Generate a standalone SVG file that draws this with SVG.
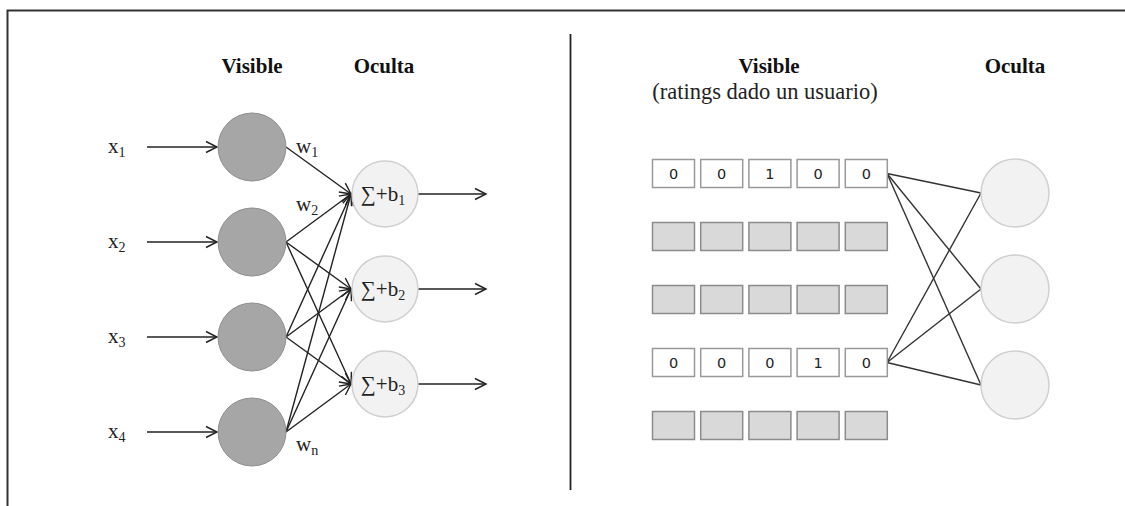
<svg xmlns="http://www.w3.org/2000/svg" width="1125" height="506" viewBox="0 0 1125 506">
<defs>
<marker id="open" markerUnits="userSpaceOnUse" markerWidth="14" markerHeight="14" refX="12" refY="6" orient="auto" viewBox="0 0 14 12">
<path d="M1,0.5 L12,6 L1,11.5" fill="none" stroke="#222" stroke-width="1.4"/>
</marker>
</defs>
<style>
.frame{stroke:#333;stroke-width:2;fill:none}
.head{font-family:"Liberation Serif","Times New Roman",serif;font-weight:bold;font-size:21px;fill:#111;text-anchor:middle}
.ser{font-family:"Liberation Serif","Times New Roman",serif;font-size:21px;fill:#222}
.big{font-size:22.5px}
.sub{font-size:14px}
.vis{fill:#a6a6a6;stroke:#8f8f8f;stroke-width:1}
.hid{fill:#f2f2f2;stroke:#cfcfcf;stroke-width:1.5}
.arr{stroke:#222;stroke-width:1.4;fill:none;marker-end:url(#open)}
.ln{stroke:#333;stroke-width:1.4;fill:none}
.bw{fill:#fff;stroke:#999;stroke-width:1.5}
.bg{fill:#d9d9d9;stroke:#8c8c8c;stroke-width:1.5}
.dig{font-family:"DejaVu Sans",Verdana,sans-serif;font-size:14.5px;fill:#222;text-anchor:middle}
</style>
<rect width="1125" height="506" fill="#fff"/>
<path class="frame" d="M7.5,506 V10.5 H1125"/>
<line x1="570.5" y1="34" x2="570.5" y2="490" stroke="#222" stroke-width="1.8"/>

<g id="headers">
<text class="head" x="252" y="73">Visible</text>
<text class="head" x="384" y="73">Oculta</text>
<text class="head" x="769" y="73">Visible</text>
<text class="ser big" x="765" y="99" text-anchor="middle">(ratings dado un usuario)</text>
<text class="head" x="1015" y="73">Oculta</text>
</g>

<g id="connectors">
<line class="arr" x1="147" y1="147" x2="217" y2="147"/>
<line class="arr" x1="147" y1="242" x2="217" y2="242"/>
<line class="arr" x1="147" y1="337" x2="217" y2="337"/>
<line class="arr" x1="147" y1="432" x2="217" y2="432"/>
<line class="arr" x1="286" y1="147" x2="351" y2="194"/>
<line class="arr" x1="286" y1="242" x2="351" y2="194"/>
<line class="arr" x1="286" y1="242" x2="351" y2="289"/>
<line class="arr" x1="286" y1="242" x2="351" y2="384"/>
<line class="arr" x1="286" y1="337" x2="351" y2="194"/>
<line class="arr" x1="286" y1="337" x2="351" y2="289"/>
<line class="arr" x1="286" y1="337" x2="351" y2="384"/>
<line class="arr" x1="286" y1="432" x2="351" y2="194"/>
<line class="arr" x1="286" y1="432" x2="351" y2="289"/>
<line class="arr" x1="286" y1="432" x2="351" y2="384"/>
<line class="arr" x1="418" y1="194" x2="486" y2="194"/>
<line class="arr" x1="418" y1="289" x2="486" y2="289"/>
<line class="arr" x1="418" y1="384" x2="486" y2="384"/>
<line class="ln" x1="887" y1="173.5" x2="981" y2="193"/>
<line class="ln" x1="887" y1="173.5" x2="981" y2="289"/>
<line class="ln" x1="887" y1="173.5" x2="981" y2="385"/>
<line class="ln" x1="887" y1="362.5" x2="981" y2="193"/>
<line class="ln" x1="887" y1="362.5" x2="981" y2="289"/>
<line class="ln" x1="887" y1="362.5" x2="981" y2="385"/>
</g>

<g id="input-labels">
<text class="ser" x="108" y="153">x<tspan class="sub" dy="4">1</tspan></text>
<text class="ser" x="108" y="248">x<tspan class="sub" dy="4">2</tspan></text>
<text class="ser" x="108" y="343">x<tspan class="sub" dy="4">3</tspan></text>
<text class="ser" x="108" y="438">x<tspan class="sub" dy="4">4</tspan></text>
</g>

<g id="weight-labels">
<text class="ser" x="296" y="153">w<tspan class="sub" dy="4">1</tspan></text>
<text class="ser" x="296" y="211">w<tspan class="sub" dy="4">2</tspan></text>
<text class="ser" x="296" y="451">w<tspan class="sub" dy="4">n</tspan></text>
</g>

<g id="visible-1"><circle class="vis" cx="252" cy="147" r="34"/></g>
<g id="visible-2"><circle class="vis" cx="252" cy="242" r="34"/></g>
<g id="visible-3"><circle class="vis" cx="252" cy="337" r="34"/></g>
<g id="visible-4"><circle class="vis" cx="252" cy="432" r="34"/></g>

<g id="hidden-1"><circle class="hid" cx="385" cy="194" r="33"/><text class="ser" x="383" y="201" text-anchor="middle">∑+b<tspan class="sub" dy="4">1</tspan></text></g>
<g id="hidden-2"><circle class="hid" cx="385" cy="289" r="33"/><text class="ser" x="383" y="296" text-anchor="middle">∑+b<tspan class="sub" dy="4">2</tspan></text></g>
<g id="hidden-3"><circle class="hid" cx="385" cy="384" r="33"/><text class="ser" x="383" y="391" text-anchor="middle">∑+b<tspan class="sub" dy="4">3</tspan></text></g>

<g id="row-1">
<rect class="bw" x="652.5" y="159.5" width="42" height="28"/><text class="dig" x="673.5" y="179">0</text>
<rect class="bw" x="700.7" y="159.5" width="42" height="28"/><text class="dig" x="721.7" y="179">0</text>
<rect class="bw" x="748.9" y="159.5" width="42" height="28"/><text class="dig" x="769.9" y="179">1</text>
<rect class="bw" x="797.1" y="159.5" width="42" height="28"/><text class="dig" x="818.1" y="179">0</text>
<rect class="bw" x="845.3" y="159.5" width="42" height="28"/><text class="dig" x="866.3" y="179">0</text>
</g>
<g id="row-2">
<rect class="bg" x="652.5" y="222.5" width="42" height="28"/>
<rect class="bg" x="700.7" y="222.5" width="42" height="28"/>
<rect class="bg" x="748.9" y="222.5" width="42" height="28"/>
<rect class="bg" x="797.1" y="222.5" width="42" height="28"/>
<rect class="bg" x="845.3" y="222.5" width="42" height="28"/>
</g>
<g id="row-3">
<rect class="bg" x="652.5" y="285.5" width="42" height="28"/>
<rect class="bg" x="700.7" y="285.5" width="42" height="28"/>
<rect class="bg" x="748.9" y="285.5" width="42" height="28"/>
<rect class="bg" x="797.1" y="285.5" width="42" height="28"/>
<rect class="bg" x="845.3" y="285.5" width="42" height="28"/>
</g>
<g id="row-4">
<rect class="bw" x="652.5" y="348.5" width="42" height="28"/><text class="dig" x="673.5" y="368">0</text>
<rect class="bw" x="700.7" y="348.5" width="42" height="28"/><text class="dig" x="721.7" y="368">0</text>
<rect class="bw" x="748.9" y="348.5" width="42" height="28"/><text class="dig" x="769.9" y="368">0</text>
<rect class="bw" x="797.1" y="348.5" width="42" height="28"/><text class="dig" x="818.1" y="368">1</text>
<rect class="bw" x="845.3" y="348.5" width="42" height="28"/><text class="dig" x="866.3" y="368">0</text>
</g>
<g id="row-5">
<rect class="bg" x="652.5" y="411.5" width="42" height="28"/>
<rect class="bg" x="700.7" y="411.5" width="42" height="28"/>
<rect class="bg" x="748.9" y="411.5" width="42" height="28"/>
<rect class="bg" x="797.1" y="411.5" width="42" height="28"/>
<rect class="bg" x="845.3" y="411.5" width="42" height="28"/>
</g>

<g id="rhidden-1"><circle class="hid" cx="1015" cy="193" r="34"/></g>
<g id="rhidden-2"><circle class="hid" cx="1015" cy="289" r="34"/></g>
<g id="rhidden-3"><circle class="hid" cx="1015" cy="385" r="34"/></g>
</svg>
